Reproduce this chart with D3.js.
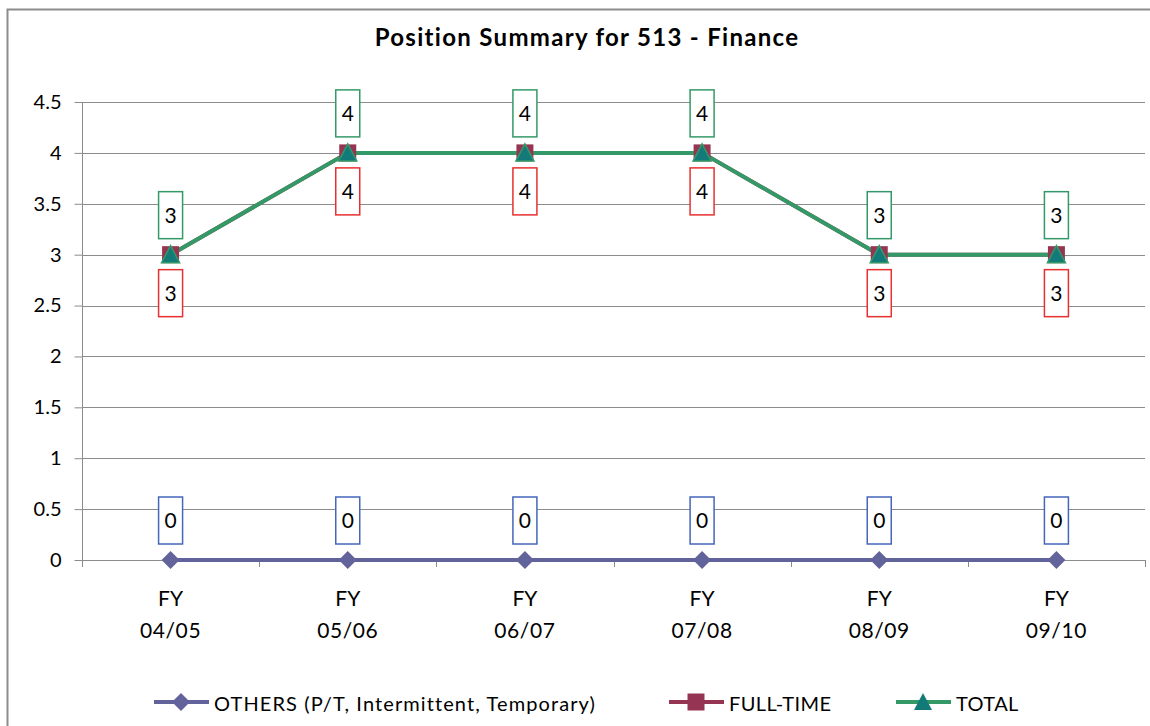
<!DOCTYPE html>
<html>
<head>
<meta charset="utf-8">
<script src="https://cdn.jsdelivr.net/npm/d3@7"></script>
<style>
  body { margin: 0; background: #fff; }
  text { font-family: Lato, "Open Sans", sans-serif; }
</style>
</head>
<body>
<svg id="chart"></svg>
<script>
var categories = ["FY 04/05", "FY 05/06", "FY 06/07", "FY 07/08", "FY 08/09", "FY 09/10"];
var others = [0, 0, 0, 0, 0, 0];
var fullTime = [3, 4, 4, 4, 3, 3];
var total = [3, 4, 4, 4, 3, 3];
var yTicks = [0, 0.5, 1, 1.5, 2, 2.5, 3, 3.5, 4, 4.5];
var seriesNames = ["OTHERS (P/T, Intermittent, Temporary)", "FULL-TIME", "TOTAL"];

var width = 1150, height = 726;
var svg = d3.select("#chart").attr("width", width).attr("height", height);

// chart frame
svg.append("rect")
   .attr("x", 7.5).attr("y", 9.5)
   .attr("width", 1160).attr("height", 740)
   .attr("fill", "white").attr("stroke", "#8c8c8c").attr("stroke-width", 2);

svg.append("text")
   .attr("x", 587).attr("y", 46)
   .attr("text-anchor", "middle")
   .style("font-size", "24px").style("font-weight", "bold")
   .style("letter-spacing", "1.3px")
   .text("Position Summary for 513 - Finance");

var x = d3.scaleBand().domain(categories).range([82, 1145]);
var y = d3.scaleLinear().domain([0, 4.5]).range([560, 102]);
var cx = function(i) { return x(categories[i]) + x.bandwidth() / 2; };

// gridlines
svg.append("g").selectAll("line")
   .data(yTicks.slice(1))
   .enter().append("line")
   .attr("x1", 82).attr("x2", 1145)
   .attr("y1", function(d) { return Math.round(y(d)) + 0.5; })
   .attr("y2", function(d) { return Math.round(y(d)) + 0.5; })
   .attr("stroke", "#8c8c8c").attr("stroke-width", 1);

// y axis
var yAxis = svg.append("g")
   .attr("transform", "translate(82.5,0)")
   .call(d3.axisLeft(y).tickValues(yTicks).tickSize(8).tickPadding(13)
   .tickFormat(function(d) { return d; }));
yAxis.select(".domain").attr("stroke", "#8c8c8c").attr("d", "M0,102V567");
yAxis.selectAll(".tick line").attr("stroke", "#8c8c8c");
yAxis.selectAll(".tick text").style("font-size", "20px").style("font-family", "Lato").attr("fill", "#000");

// x axis line and boundary ticks
svg.append("line")
   .attr("x1", 82).attr("x2", 1145)
   .attr("y1", 560.5).attr("y2", 560.5)
   .attr("stroke", "#8c8c8c");
var bounds = categories.map(function(c) { return x(c); }).concat([x.range()[1]]);
svg.append("g").selectAll("line")
   .data(bounds)
   .enter().append("line")
   .attr("x1", function(d) { return Math.round(d) + 0.5; })
   .attr("x2", function(d) { return Math.round(d) + 0.5; })
   .attr("y1", 560).attr("y2", 567)
   .attr("stroke", "#8c8c8c");

var xl = svg.append("g").selectAll("text")
   .data(categories)
   .enter().append("text")
   .attr("text-anchor", "middle")
   .style("font-size", "21px");
xl.append("tspan")
   .attr("x", function(d, i) { return cx(i); }).attr("y", 606)
   .text(function(d) { return d.split(" ")[0]; });
xl.append("tspan")
   .attr("x", function(d, i) { return cx(i); }).attr("y", 638)
   .style("letter-spacing", "0.6px")
   .text(function(d) { return d.split(" ")[1]; });

// lines
var line = function(vals) {
  return d3.line().x(function(d, i) { return cx(i); }).y(function(d) { return y(d); })(vals);
};
var colOthers = "#63639c", colFull = "#953553", colTotal = "#339966";
svg.append("path").attr("d", line(others)).attr("fill", "none").attr("stroke", colOthers).attr("stroke-width", 4);
svg.append("path").attr("d", line(fullTime)).attr("fill", "none").attr("stroke", colFull).attr("stroke-width", 4);
svg.append("path").attr("d", line(total)).attr("fill", "none").attr("stroke", colTotal).attr("stroke-width", 4);

var diamond = "M0,-9L9,0L0,9L-9,0Z";
var square = "M-8.5,-8.5H8.5V8.5H-8.5Z";
var triangle = "M0,-9L9,8H-9Z";

svg.append("g").selectAll("path").data(others).enter().append("path")
   .attr("d", diamond).attr("fill", colOthers)
   .attr("transform", function(d, i) { return "translate(" + cx(i) + "," + y(d) + ")"; });
svg.append("g").selectAll("path").data(fullTime).enter().append("path")
   .attr("d", square).attr("fill", colFull)
   .attr("transform", function(d, i) { return "translate(" + cx(i) + "," + y(d) + ")"; });
svg.append("g").selectAll("path").data(total).enter().append("path")
   .attr("d", triangle).attr("fill", "#137a7a").attr("stroke", colTotal).attr("stroke-width", 1.5)
   .attr("transform", function(d, i) { return "translate(" + cx(i) + "," + y(d) + ")"; });

// data labels
function labels(vals, color, dy) {
  var g = svg.append("g").selectAll("g").data(vals).enter().append("g")
     .attr("transform", function(d, i) { return "translate(" + cx(i) + "," + (y(d) + dy) + ")"; });
  g.append("rect")
   .attr("x", -12).attr("y", 0).attr("width", 24).attr("height", 47)
   .attr("fill", "white").attr("stroke", color).attr("stroke-width", 1.5);
  g.append("text")
   .attr("x", 0).attr("y", 31)
   .attr("text-anchor", "middle")
   .style("font-size", "21px")
   .text(function(d) { return d; });
}
labels(total, colTotal, -63);
labels(fullTime, "#e83030", 15);
labels(others, "#4466bb", -63);

// legend
var legendItems = [
  { name: seriesNames[0], color: colOthers, shape: diamond, x: 154, fill: colOthers, ls: "1.1px" },
  { name: seriesNames[1], color: colFull, shape: square, x: 669, fill: colFull, ls: "0.4px" },
  { name: seriesNames[2], color: colTotal, shape: triangle, x: 896, fill: "#137a7a", ls: "0.4px" }
];
var lg = svg.append("g").selectAll("g").data(legendItems).enter().append("g")
   .attr("transform", function(d) { return "translate(" + d.x + ",702)"; });
lg.append("line").attr("x1", 0).attr("x2", 55).attr("y1", 0).attr("y2", 0)
   .attr("stroke", function(d) { return d.color; }).attr("stroke-width", 4);
lg.append("path").attr("d", function(d) { return d.shape; })
   .attr("transform", "translate(27,0)")
   .attr("fill", function(d) { return d.fill; });
lg.append("text").attr("x", 60).attr("y", 9)
   .style("font-size", "20px")
   .style("letter-spacing", function(d) { return d.ls; })
   .text(function(d) { return d.name; });
</script>
</body>
</html>
